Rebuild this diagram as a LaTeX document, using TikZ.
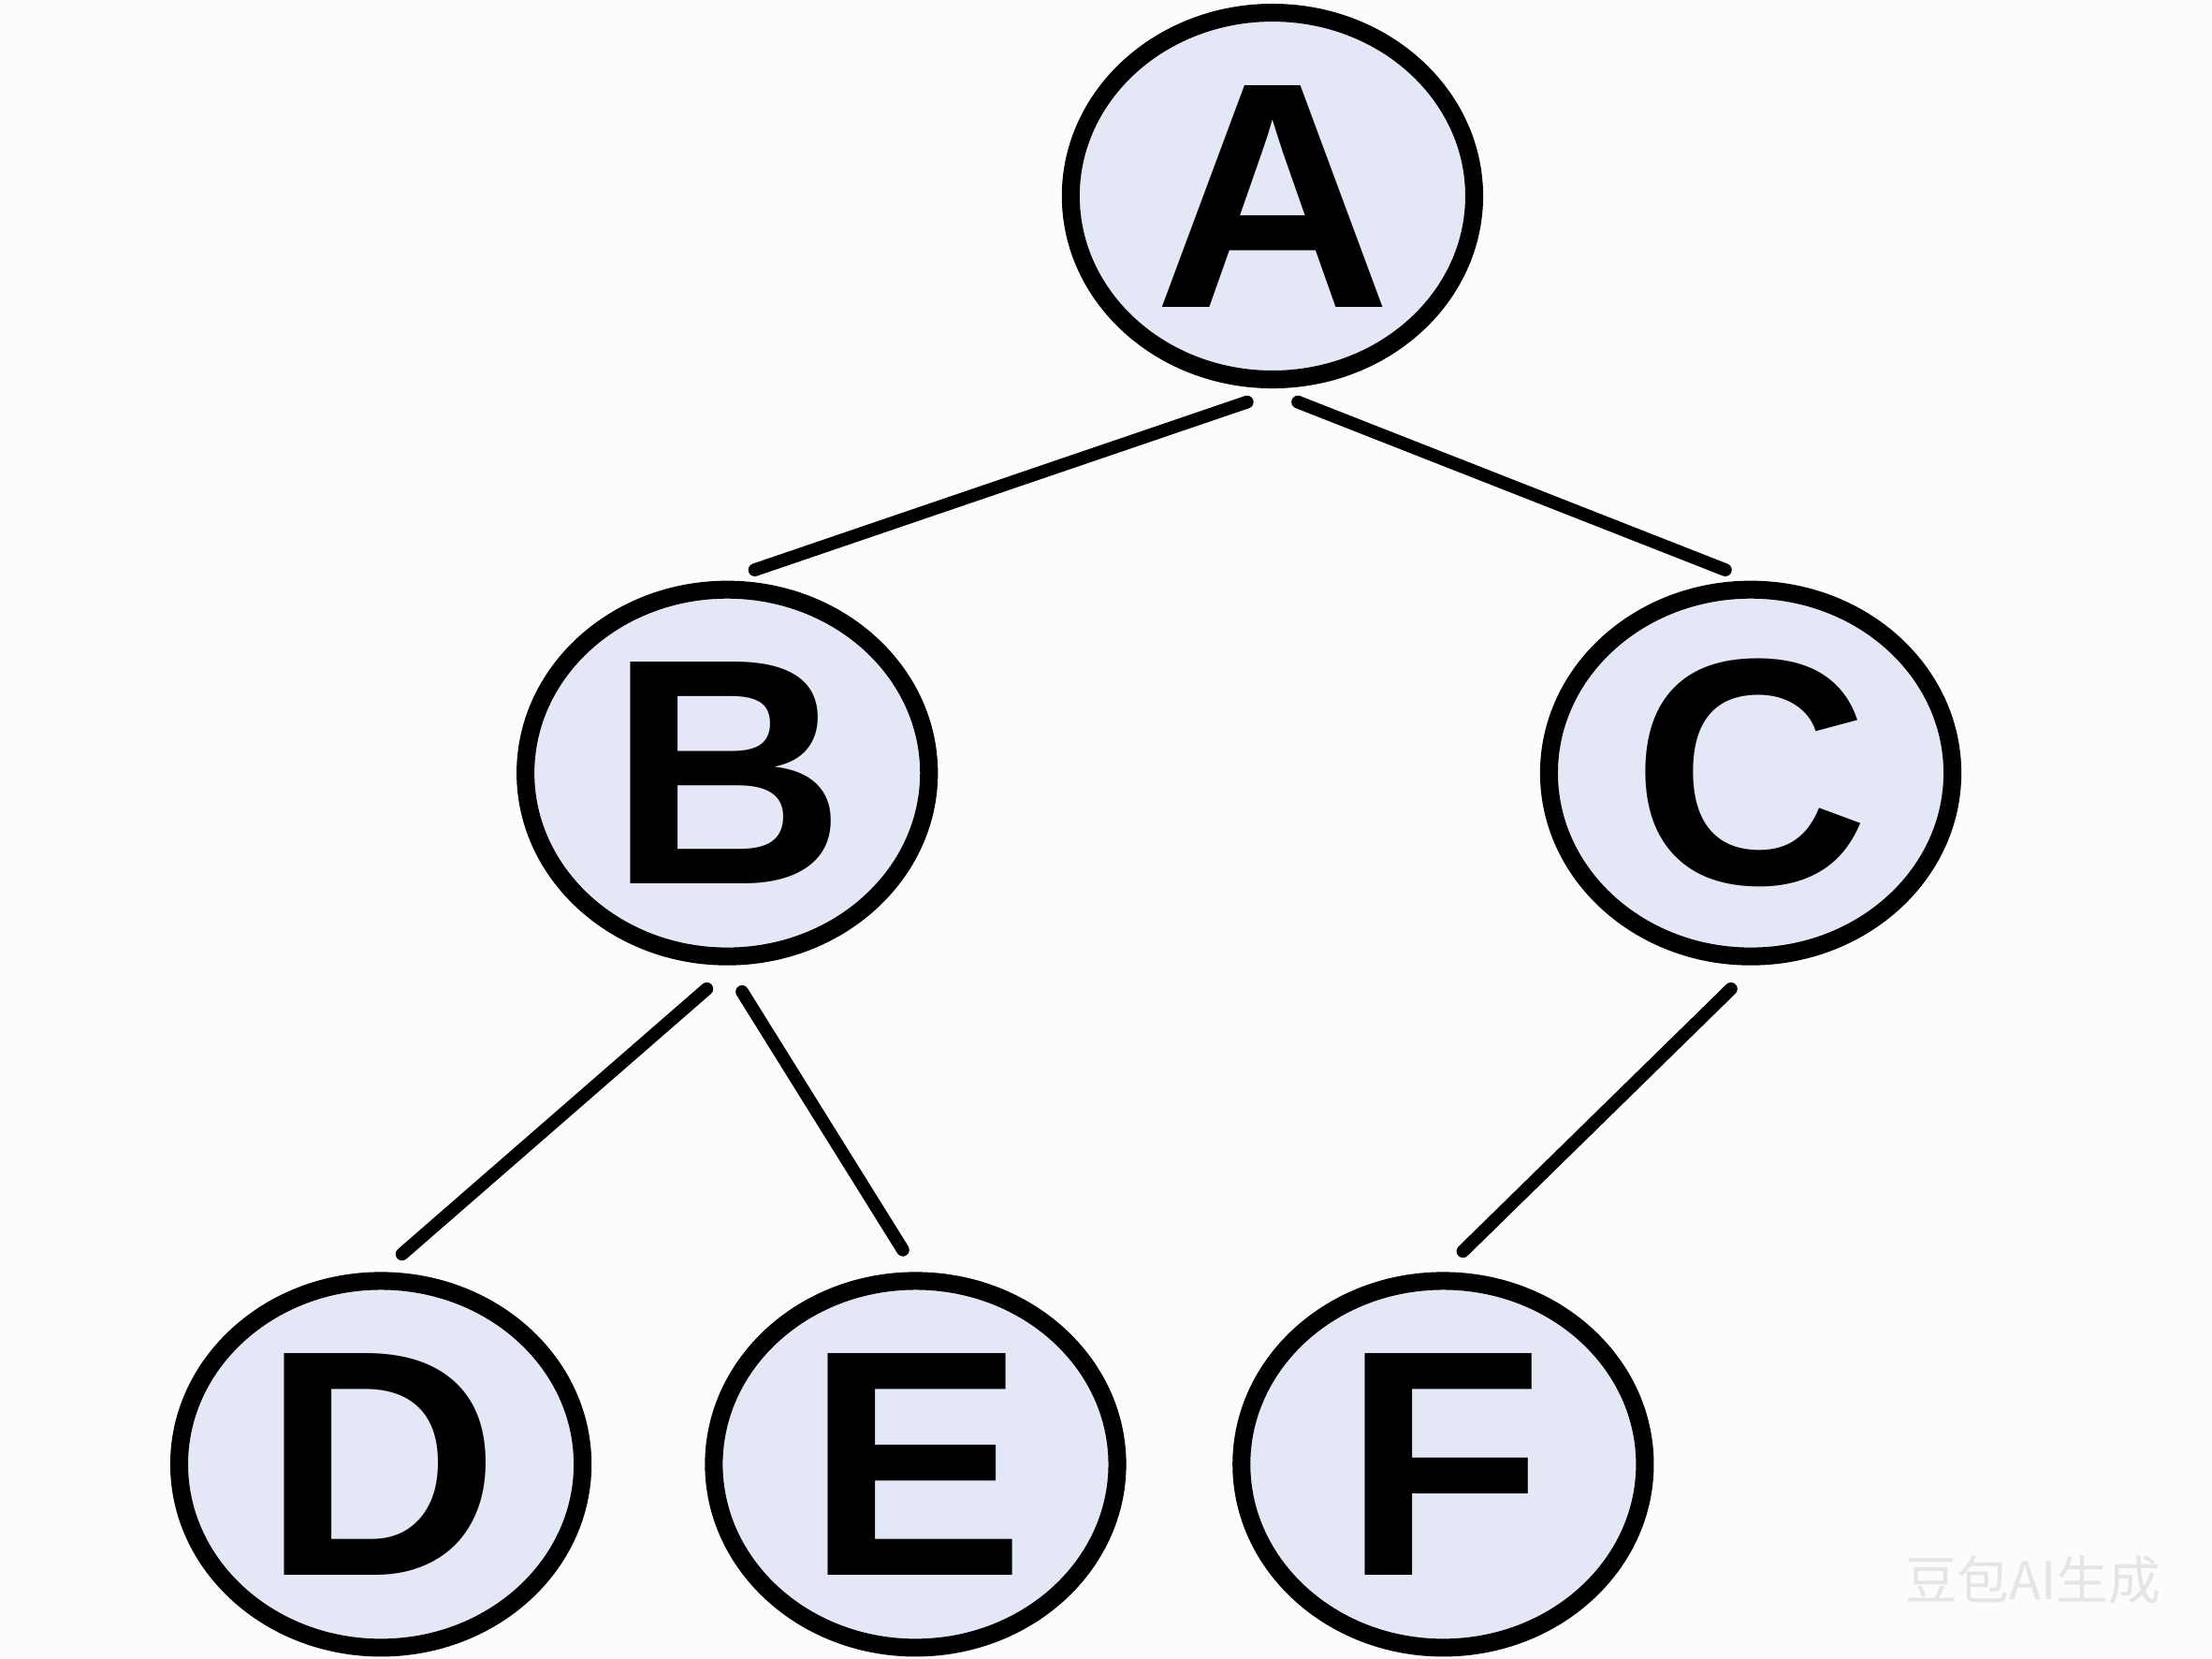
\documentclass[tikz,border=0pt]{standalone}
\usepackage{fontspec}
\setmainfont{Liberation Sans}
\newfontfamily\cjk{Noto Sans CJK SC}
\usetikzlibrary{shapes.geometric, positioning, calc}
\definecolor{nodefill}{RGB}{228,232,246}
\definecolor{paper}{RGB}{252,252,250}
\tikzset{
  treenode/.style  = {draw, ellipse, fill=nodefill, line width=3.6pt,
                      minimum width=2.86cm, minimum height=2.6cm,
                      inner sep=0pt, outer sep=0pt,
                      font=\fontsize{65}{65}\selectfont\bfseries\addfontfeature{FakeStretch=1.02}},
  branch/.style    = {line width=2.6pt, line cap=round},
  stamptext/.style = {font=\cjk\fontsize{10.5}{10.5}\selectfont, text=gray!20}
}
\begin{document}
\begin{tikzpicture}

  % ── Page ──────────────────────────────────────────────────────────────────
  \fill[paper] (0,0) rectangle (15.68,11.76);
  \useasboundingbox (0,0) rectangle (15.68,11.76);

  % ── Tree nodes ────────────────────────────────────────────────────────────
  \node[treenode] (A) at (9.02,10.37) {A};
  \node[treenode] (B) at (5.155,6.28) {B};
  \node[treenode] (C) at (12.41,6.28) {C};
  \node[treenode] (D) at (2.70,1.38)  {D};
  \node[treenode] (E) at (6.49,1.38)  {E};
  \node[treenode] (F) at (10.23,1.38) {F};

  % ── Branches (stop short of the rings) ────────────────────────────────────
  \draw[branch] ($(A.south)+(-0.18,-0.16)$) -- ($(B.north)+(0.195,0.14)$);
  \draw[branch] ($(A.south)+(0.18,-0.16)$)  -- ($(C.north)+(-0.18,0.14)$);
  \draw[branch] ($(B.south)+(-0.145,-0.23)$) -- ($(D.north)+(0.15,0.19)$);
  \draw[branch] ($(B.south)+(0.105,-0.25)$)  -- ($(E.north)+(-0.09,0.22)$);
  \draw[branch] ($(C.south)+(-0.14,-0.23)$)  -- ($(F.north)+(0.14,0.21)$);

  % ── Watermark ─────────────────────────────────────────────────────────────
  \node[stamptext] (Stamp) at (14.41,0.56) {豆包AI生成};

\end{tikzpicture}
\end{document}
